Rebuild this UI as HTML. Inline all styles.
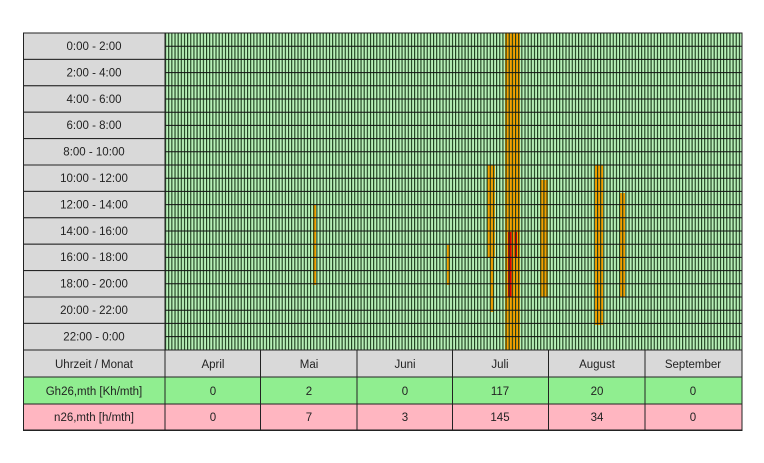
<!DOCTYPE html>
<html><head><style>
body{margin:0;background:#fff;font-family:"Liberation Sans",sans-serif;}
</style></head><body>
<svg width="764" height="458" xmlns="http://www.w3.org/2000/svg" font-family="Liberation Sans, sans-serif" font-size="11.5">
<defs>
<pattern id="v" x="165" y="0" width="3.153" height="13.2" patternUnits="userSpaceOnUse">
<rect x="0" width="1.1" height="13.2" fill="#1a3a1a"/>
</pattern>
</defs>
<rect x="165" y="33" width="577" height="317" fill="#b8f0b8"/>
<g fill="#f5a000">
<rect x="313" y="205" width="3" height="80"/>
<rect x="447" y="245" width="3" height="40"/>
<rect x="487" y="165" width="8" height="93"/>
<rect x="490" y="258" width="4" height="54"/>
<rect x="505" y="33" width="15" height="317"/>
<rect x="540" y="180" width="8" height="117"/>
<rect x="595" y="165" width="8" height="160"/>
<rect x="620" y="193" width="5" height="104"/>
</g>
<g fill="#e00000">
<rect x="508" y="232" width="3.5" height="65"/>
<rect x="514.5" y="232" width="2.5" height="26"/>
</g>
<rect x="165" y="33" width="577" height="317" fill="url(#v)"/>
<g stroke="#111" stroke-width="1">
<path d="M165 46.2H742M165 59.4H742M165 72.6H742M165 85.8H742M165 99H742M165 112.2H742M165 125.4H742M165 138.6H742M165 151.8H742M165 165H742M165 178.2H742M165 191.4H742M165 204.6H742M165 217.8H742M165 231H742M165 244.2H742M165 257.4H742M165 270.6H742M165 283.8H742M165 297H742M165 310.2H742M165 323.4H742M165 336.6H742"/>
</g>
<g fill="#d9d9d9" stroke="#222" stroke-width="1">
<rect x="23.5" y="33" width="141.5" height="26.4"/><rect x="23.5" y="59.4" width="141.5" height="26.4"/><rect x="23.5" y="85.8" width="141.5" height="26.4"/><rect x="23.5" y="112.2" width="141.5" height="26.4"/><rect x="23.5" y="138.6" width="141.5" height="26.4"/><rect x="23.5" y="165" width="141.5" height="26.4"/><rect x="23.5" y="191.4" width="141.5" height="26.4"/><rect x="23.5" y="217.8" width="141.5" height="26.4"/><rect x="23.5" y="244.2" width="141.5" height="26.4"/><rect x="23.5" y="270.6" width="141.5" height="26.4"/><rect x="23.5" y="297" width="141.5" height="26.4"/><rect x="23.5" y="323.4" width="141.5" height="26.6"/>
<rect x="23.5" y="350" width="718.5" height="27"/>
</g>
<rect x="23.5" y="377" width="718.5" height="27" fill="#90ee90" stroke="#222"/>
<rect x="23.5" y="404" width="718.5" height="26.5" fill="#ffb6c1" stroke="#222"/>
<g stroke="#222" stroke-width="1">
<path d="M165 350V430M260.5 350V430M357 350V430M452.5 350V430M548.5 350V430M645 350V430"/>
</g>
<rect x="23.5" y="33" width="718.5" height="397" fill="none" stroke="#222"/>
<g fill="#222" text-anchor="middle">
<text x="94" y="50">0:00 - 2:00</text><text x="94" y="76.4">2:00 - 4:00</text><text x="94" y="102.8">4:00 - 6:00</text><text x="94" y="129.2">6:00 - 8:00</text><text x="94" y="155.6">8:00 - 10:00</text><text x="94" y="182">10:00 - 12:00</text><text x="94" y="208.4">12:00 - 14:00</text><text x="94" y="234.8">14:00 - 16:00</text><text x="94" y="261.2">16:00 - 18:00</text><text x="94" y="287.6">18:00 - 20:00</text><text x="94" y="314">20:00 - 22:00</text><text x="94" y="340.4">22:00 - 0:00</text>
<text x="94" y="368">Uhrzeit / Monat</text><text x="94" y="395">Gh26,mth [Kh/mth]</text><text x="94" y="421">n26,mth [h/mth]</text>
<text x="213" y="368">April</text><text x="309" y="368">Mai</text><text x="405" y="368">Juni</text><text x="500" y="368">Juli</text><text x="597" y="368">August</text><text x="693" y="368">September</text>
<text x="213" y="395">0</text><text x="309" y="395">2</text><text x="405" y="395">0</text><text x="500" y="395">117</text><text x="597" y="395">20</text><text x="693" y="395">0</text>
<text x="213" y="421">0</text><text x="309" y="421">7</text><text x="405" y="421">3</text><text x="500" y="421">145</text><text x="597" y="421">34</text><text x="693" y="421">0</text>
</g>
</svg>
</body></html>
